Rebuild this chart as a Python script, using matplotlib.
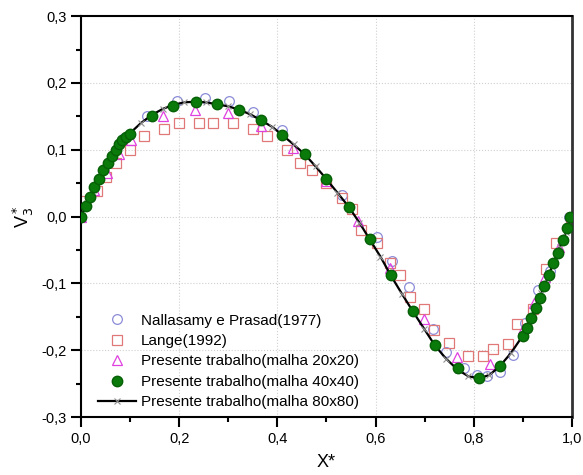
import matplotlib
matplotlib.use('Agg')
from matplotlib import pyplot as plt
from matplotlib.ticker import MultipleLocator, FuncFormatter

plt.rcParams['font.family'] = ['Liberation Sans', 'DejaVu Sans']

# Nallasamy e Prasad (1977)
x_nal = [0.0, 0.088, 0.134, 0.195, 0.253, 0.302, 0.351, 0.409, 0.531, 0.602,
         0.634, 0.669, 0.718, 0.743, 0.781, 0.806, 0.826, 0.853, 0.880, 0.905,
         0.930, 0.956, 0.995]
v_nal = [0.0, 0.118, 0.151, 0.173, 0.178, 0.173, 0.157, 0.129, 0.033, -0.030,
         -0.067, -0.106, -0.168, -0.203, -0.227, -0.237, -0.239, -0.233, -0.207, -0.159,
         -0.110, -0.082, 0.0]

# Lange (1992)
x_lan = [0.008, 0.032, 0.051, 0.071, 0.100, 0.129, 0.169, 0.200, 0.240, 0.269,
         0.310, 0.350, 0.379, 0.420, 0.446, 0.470, 0.500, 0.531, 0.551, 0.570,
         0.602, 0.629, 0.649, 0.670, 0.699, 0.719, 0.750, 0.789, 0.819, 0.840,
         0.869, 0.889, 0.920, 0.948, 0.968, 0.998]
v_lan = [0.023, 0.039, 0.060, 0.080, 0.100, 0.120, 0.131, 0.140, 0.140, 0.140,
         0.140, 0.131, 0.120, 0.100, 0.080, 0.070, 0.050, 0.028, 0.011, -0.020,
         -0.040, -0.069, -0.088, -0.120, -0.139, -0.169, -0.189, -0.209, -0.209, -0.198,
         -0.190, -0.160, -0.138, -0.079, -0.039, -0.002]

# Presente trabalho (malha 20x20)
x_20 = [0.0, 0.026, 0.052, 0.077, 0.102, 0.166, 0.232, 0.300, 0.366, 0.432,
        0.499, 0.565, 0.629, 0.699, 0.765, 0.833, 0.900, 0.922, 0.946, 0.974, 1.0]
v_20 = [0.0, 0.040, 0.066, 0.094, 0.115, 0.150, 0.160, 0.155, 0.135, 0.103,
        0.053, -0.007, -0.077, -0.154, -0.210, -0.221, -0.168, -0.129, -0.091, -0.045, 0.0]

# Presente trabalho (malha 40x40)
x_40 = [0.0, 0.010, 0.018, 0.027, 0.036, 0.045, 0.054, 0.063, 0.071, 0.077,
        0.084, 0.092, 0.100, 0.144, 0.187, 0.234, 0.277, 0.322, 0.367, 0.410,
        0.456, 0.500, 0.545, 0.588, 0.631, 0.677, 0.721, 0.767, 0.811, 0.853,
        0.900, 0.908, 0.917, 0.926, 0.935, 0.944, 0.953, 0.962, 0.971, 0.981,
        0.990, 0.997]
v_40 = [0.0, 0.016, 0.030, 0.045, 0.057, 0.069, 0.080, 0.091, 0.100, 0.108,
        0.114, 0.119, 0.124, 0.151, 0.166, 0.171, 0.168, 0.160, 0.144, 0.122,
        0.093, 0.056, 0.015, -0.034, -0.088, -0.142, -0.192, -0.227, -0.241, -0.224,
        -0.178, -0.166, -0.152, -0.137, -0.122, -0.104, -0.088, -0.070, -0.054, -0.035,
        -0.017, 0.0]

# Presente trabalho (malha 80x80)
x_80 = [0.0, 0.013, 0.025, 0.038, 0.050, 0.063, 0.075, 0.088, 0.100, 0.122,
        0.144, 0.166, 0.187, 0.210, 0.234, 0.255, 0.277, 0.300, 0.322, 0.345,
        0.367, 0.390, 0.410, 0.433, 0.456, 0.478, 0.500, 0.522, 0.545, 0.567,
        0.588, 0.610, 0.631, 0.654, 0.677, 0.699, 0.721, 0.744, 0.767, 0.789,
        0.811, 0.832, 0.853, 0.876, 0.900, 0.913, 0.925, 0.938, 0.950, 0.963,
        0.975, 0.988, 1.0]
v_80 = [0.0, 0.021, 0.040, 0.058, 0.074, 0.090, 0.104, 0.116, 0.125, 0.140,
        0.152, 0.161, 0.167, 0.171, 0.172, 0.171, 0.168, 0.165, 0.160, 0.153,
        0.144, 0.134, 0.122, 0.108, 0.093, 0.075, 0.056, 0.036, 0.015, -0.009,
        -0.034, -0.060, -0.088, -0.116, -0.143, -0.168, -0.193, -0.213, -0.229, -0.239,
        -0.242, -0.237, -0.224, -0.204, -0.178, -0.157, -0.136, -0.114, -0.092, -0.068,
        -0.046, -0.023, 0.0]

xticks = [0.0, 0.2, 0.4, 0.6, 0.8, 1.0]
yticks = [-0.3, -0.2, -0.1, 0.0, 0.1, 0.2, 0.3]

fig = plt.figure(figsize=(5.83, 4.75), dpi=100)
ax = fig.add_axes([0.139, 0.122, 0.842, 0.844])

ax.plot(x_80, v_80, color='black', linewidth=1.6, marker='x', markersize=4,
        markeredgecolor='#909090', markeredgewidth=0.8,
        label='Presente trabalho(malha 80x80)', zorder=3)
ax.plot(x_nal, v_nal, linestyle='none', marker='o', markersize=7, markerfacecolor='none',
        markeredgecolor='#8c8cd8', markeredgewidth=0.9, label='Nallasamy e Prasad(1977)', zorder=2)
ax.plot(x_lan, v_lan, linestyle='none', marker='s', markersize=6.5, markerfacecolor='none',
        markeredgecolor='#e07878', markeredgewidth=0.9, label='Lange(1992)', zorder=2)
ax.plot(x_20, v_20, linestyle='none', marker='^', markersize=7.5, markerfacecolor='none',
        markeredgecolor='#e040e0', markeredgewidth=0.9, label='Presente trabalho(malha 20x20)', zorder=2)
ax.plot(x_40, v_40, linestyle='none', marker='o', markersize=7.5, color='#0a7a0a',
        markeredgecolor='#066006', label='Presente trabalho(malha 40x40)', zorder=4)

ax.set_xlim(0, 1.0)
ax.set_ylim(-0.3, 0.3)
ax.set_xticks(xticks)
ax.set_yticks(yticks)
ax.xaxis.set_minor_locator(MultipleLocator(0.1))
ax.yaxis.set_minor_locator(MultipleLocator(0.05))
comma = FuncFormatter(lambda v, p: f'{v:.1f}'.replace('.', ',').replace('-0,0', '0,0'))
ax.xaxis.set_major_formatter(comma)
ax.yaxis.set_major_formatter(comma)
ax.tick_params(which='major', direction='out', length=7.5, width=1.5, labelsize=10.5,
               pad=3, top=False, right=False)
ax.tick_params(which='minor', direction='out', length=3.5, width=1.5, top=False, right=False)
for s in ax.spines.values():
    s.set_linewidth(1.5)
ax.spines['right'].set_color('#333333')
ax.spines['right'].set_linewidth(2)
ax.grid(which='major', linestyle=':', color='#d0d0d0', linewidth=0.8)

ax.set_xlabel('X*', fontsize=13, labelpad=6)
ax.set_ylabel('V$_3^*$', fontsize=13)

h, l = ax.get_legend_handles_labels()
order = [1, 2, 3, 4, 0]
ax.legend([h[i] for i in order], [l[i] for i in order], loc='lower left',
          bbox_to_anchor=(0.006, -0.015), frameon=False, fontsize=11,
          handlelength=2.5, handletextpad=0.3, labelspacing=0.42)

fig.savefig('out.png', dpi=100)
